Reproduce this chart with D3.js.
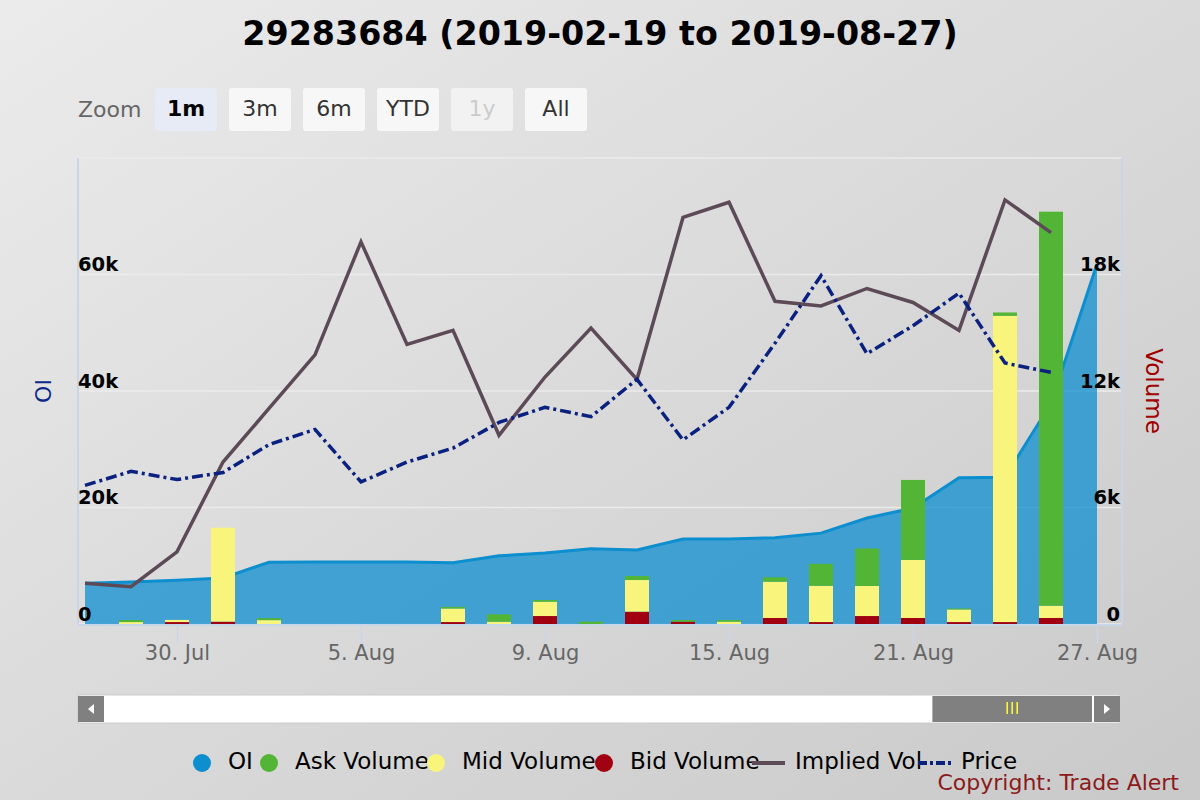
<!DOCTYPE html>
<html>
<head>
<meta charset="utf-8">
<script src="https://cdn.jsdelivr.net/npm/d3@7"></script>
<style>
  html, body { margin: 0; padding: 0; }
  body { width: 1200px; height: 800px; overflow: hidden; }
  svg { display: block; font-family: "DejaVu Sans", Verdana, sans-serif; }
</style>
</head>
<body>
<svg id="chart" width="1200" height="800"></svg>
<script>
// trading days shown in the 1m window
const dates = [
  "2019-07-26", "2019-07-29", "2019-07-30", "2019-07-31", "2019-08-01", "2019-08-02",
  "2019-08-05", "2019-08-06", "2019-08-07", "2019-08-08", "2019-08-09",
  "2019-08-12", "2019-08-13", "2019-08-14", "2019-08-15", "2019-08-16",
  "2019-08-19", "2019-08-20", "2019-08-21", "2019-08-22", "2019-08-23",
  "2019-08-26", "2019-08-27"
];

const oi = [7000, 7200, 7500, 7900, 10600, 10650, 10650, 10650, 10500, 11700, 12200,
  12900, 12700, 14600, 14600, 14800, 15600, 18200, 19900, 25100, 25200, 37900, 61800];

const askVolume = [0, 100, 0, 0, 100, 0, 0, 0, 85, 380, 85,
  120, 205, 85, 85, 225, 1130, 1930, 4120, 50, 175, 20290, 0];
const midVolume = [0, 100, 110, 4840, 200, 0, 0, 0, 700, 120, 740,
  0, 1630, 0, 120, 1870, 1870, 1550, 2990, 650, 15770, 635, 0];
const bidVolume = [0, 0, 100, 120, 0, 0, 0, 0, 100, 0, 410,
  0, 635, 120, 0, 310, 100, 410, 310, 100, 100, 310, 0];

const impliedVol = [23.5, 23.2, 26.2, 33.9, 38.5, 43.1, 52.8, 44.0, 45.2, 36.2, 41.2,
  45.4, 41.0, 54.9, 56.2, 47.7, 47.3, 48.8, 47.6, 45.2, 56.4, 53.6, null];
const price = [1.19, 1.31, 1.24, 1.30, 1.54, 1.67, 1.22, 1.39, 1.51, 1.73, 1.86,
  1.78, 2.10, 1.58, 1.86, 2.41, 2.99, 2.32, 2.56, 2.84, 2.24, 2.16, null];

const tickDates = ["2019-07-30", "2019-08-05", "2019-08-09", "2019-08-15", "2019-08-21", "2019-08-27"];
const tickLabels = ["30. Jul", "5. Aug", "9. Aug", "15. Aug", "21. Aug", "27. Aug"];
const oiTicks = [0, 20000, 40000, 60000];
const volumeTicks = [0, 6000, 12000, 18000];
const gridTicks = [0, 20000, 40000, 60000, 80000];

const zoomButtons = ["1m", "3m", "6m", "YTD", "1y", "All"];
const fullRange = ["2019-02-19", "2019-08-27"];

const colors = {
  oi: "#0d8ecf",
  ask: "#52b535",
  mid: "#f8f47c",
  bid: "#a0000f",
  iv: "#5c4b56",
  price: "#0b2180"
};

const legendItems = [
  { name: "OI", color: colors.oi, type: "dot", x: 202 },
  { name: "Ask Volume", color: colors.ask, type: "dot", x: 269 },
  { name: "Mid Volume", color: colors.mid, type: "dot", x: 436 },
  { name: "Bid Volume", color: colors.bid, type: "dot", x: 604 },
  { name: "Implied Vol", color: colors.iv, type: "line", x: 752 },
  { name: "Price", color: colors.price, type: "dash", x: 918 }
];

const W = 1200, H = 800;
const plot = { left: 78, right: 1122, top: 158, bottom: 624 };

const svg = d3.select("#chart");

// background
const defs = svg.append("defs");
const bg = defs.append("linearGradient")
    .attr("id", "bg")
    .attr("x1", 0).attr("y1", 0).attr("x2", 1).attr("y2", 1);
bg.append("stop").attr("offset", "0%").attr("stop-color", "#ebebeb");
bg.append("stop").attr("offset", "100%").attr("stop-color", "#c9c9c9");
svg.append("rect").attr("width", W).attr("height", H).attr("fill", "url(#bg)");

// title
svg.append("text")
    .attr("x", W / 2).attr("y", 45)
    .attr("text-anchor", "middle")
    .style("font-size", "33.3px").style("font-weight", "bold")
    .attr("fill", "#000")
    .text("29283684 (2019-02-19 to 2019-08-27)");

// range selector
svg.append("text")
    .attr("x", 78).attr("y", 117)
    .style("font-size", "22px").attr("fill", "#666")
    .text("Zoom");

const btn = svg.append("g").selectAll("g")
  .data(zoomButtons)
  .join("g")
    .attr("transform", (d, i) => `translate(${155 + i * 74},88)`);
btn.append("rect")
    .attr("width", 62).attr("height", 43).attr("rx", 3)
    .attr("fill", d => d === "1m" ? "#e6ebf5" : (d === "1y" ? "#f2f2f2" : "#f7f7f7"));
btn.append("text")
    .attr("x", 31).attr("y", 28)
    .attr("text-anchor", "middle")
    .style("font-size", "22px")
    .style("font-weight", d => d === "1m" ? "bold" : "normal")
    .attr("fill", d => d === "1m" ? "#000" : (d === "1y" ? "#cccccc" : "#333"))
    .text(d => d);

// scales
const x = d3.scalePoint().domain(dates).range([85, 1097]);
const yOI = d3.scaleLinear().domain([0, 80000]).range([plot.bottom, plot.top]);
const yVol = d3.scaleLinear().domain([0, 24000]).range([plot.bottom, plot.top]);
const yIV = d3.scaleLinear().domain([20, 60]).range([plot.bottom, plot.top]);
const yPrice = d3.scaleLinear().domain([0, 4]).range([plot.bottom, plot.top]);

// grid
svg.append("g")
  .selectAll("line")
  .data(gridTicks)
  .join("line")
    .attr("x1", plot.left).attr("x2", plot.right)
    .attr("y1", d => yOI(d)).attr("y2", d => yOI(d))
    .attr("stroke", "#ebebeb").attr("stroke-width", 1.5);

// axis lines
svg.append("line")
    .attr("x1", plot.left).attr("x2", plot.left)
    .attr("y1", plot.top).attr("y2", plot.bottom)
    .attr("stroke", "#c9d5e8").attr("stroke-width", 2);
svg.append("line")
    .attr("x1", plot.right).attr("x2", plot.right)
    .attr("y1", plot.top).attr("y2", plot.bottom)
    .attr("stroke", "#c9d5e8").attr("stroke-width", 2);

// OI area
const area = d3.area()
    .x((d, i) => x(dates[i]))
    .y0(yOI(0))
    .y1(d => yOI(d));
svg.append("path")
    .datum(oi)
    .attr("d", area)
    .attr("fill", colors.oi).attr("fill-opacity", 0.75);
svg.append("path")
    .datum(oi)
    .attr("d", d3.line().x((d, i) => x(dates[i])).y(d => yOI(d)))
    .attr("fill", "none").attr("stroke", colors.oi).attr("stroke-width", 3);

// stacked volume
const volRows = dates.map((d, i) => ({ date: d, bid: bidVolume[i], mid: midVolume[i], ask: askVolume[i] }));
const stacked = d3.stack().keys(["bid", "mid", "ask"])(volRows);
const barW = 24;
svg.append("g")
  .selectAll("g")
  .data(stacked)
  .join("g")
    .attr("fill", s => colors[s.key])
  .selectAll("rect")
  .data(s => s.filter(d => d[1] > d[0]))
  .join("rect")
    .attr("x", d => x(d.data.date) - barW / 2)
    .attr("width", barW)
    .attr("y", d => yVol(d[1]))
    .attr("height", d => yVol(d[0]) - yVol(d[1]));

// implied vol + price lines
svg.append("path")
    .datum(impliedVol)
    .attr("d", d3.line().defined(d => d != null).x((d, i) => x(dates[i])).y(d => yIV(d)))
    .attr("fill", "none").attr("stroke", colors.iv).attr("stroke-width", 3.5)
    .attr("stroke-linejoin", "miter");
svg.append("path")
    .datum(price)
    .attr("d", d3.line().defined(d => d != null).x((d, i) => x(dates[i])).y(d => yPrice(d)))
    .attr("fill", "none").attr("stroke", colors.price).attr("stroke-width", 3.5)
    .attr("stroke-dasharray", "11,4,3,4");

// y axes labels (inside plot, above grid lines)
const fmt = d => d === 0 ? "0" : d3.format("~s")(d);
const leftAxis = svg.append("g")
    .attr("transform", `translate(${plot.left},0)`)
    .call(d3.axisRight(yOI).tickValues(oiTicks).tickFormat(fmt).tickSize(0).tickPadding(0))
    .attr("font-family", null);
leftAxis.select(".domain").remove();
leftAxis.selectAll("text")
    .attr("x", 0).attr("dy", "-0.2em")
    .style("font-size", "19.5px").style("font-weight", "bold")
    .attr("fill", "#000");

const rightAxis = svg.append("g")
    .attr("transform", `translate(${plot.right - 2},0)`)
    .call(d3.axisLeft(yVol).tickValues(volumeTicks).tickFormat(fmt).tickSize(0).tickPadding(0))
    .attr("font-family", null);
rightAxis.select(".domain").remove();
rightAxis.selectAll("text")
    .attr("x", 0).attr("dy", "-0.2em")
    .style("font-size", "19.5px").style("font-weight", "bold")
    .attr("fill", "#000");

// x axis
svg.append("line")
    .attr("x1", plot.left).attr("x2", plot.right)
    .attr("y1", plot.bottom + 1).attr("y2", plot.bottom + 1)
    .attr("stroke", "#c9d5e8").attr("stroke-width", 2);
const xAxis = svg.append("g")
    .attr("transform", `translate(0,${plot.bottom + 1})`)
    .call(d3.axisBottom(x).tickValues(tickDates)
      .tickFormat((d, i) => tickLabels[i]).tickSize(18).tickPadding(2))
    .attr("font-family", null);
xAxis.select(".domain").remove();
xAxis.selectAll("line").attr("stroke", "#c9d5e8").attr("stroke-width", 1.5);
xAxis.selectAll("text")
    .style("font-size", "21px").attr("fill", "#666");

// axis titles
svg.append("text")
    .attr("transform", "translate(51,391) rotate(-90)")
    .attr("text-anchor", "middle")
    .style("font-size", "22px").attr("fill", "#0b2a8a")
    .text("OI");
svg.append("text")
    .attr("transform", "translate(1146,391) rotate(90)")
    .attr("text-anchor", "middle")
    .style("font-size", "23px").attr("fill", "#a00000")
    .text("Volume");

// scrollbar
const track = d3.scaleTime()
    .domain(fullRange.map(d => new Date(d)))
    .range([104, 1094]);
const sb = svg.append("g").attr("transform", "translate(0,696)");
sb.append("rect").attr("x", 78).attr("y", -1).attr("width", 1042).attr("height", 28)
    .attr("fill", "#fff").attr("stroke", "#cccccc").attr("stroke-width", 1);
const thumbX0 = track(new Date(dates[0])) + 6;
sb.append("rect").attr("x", thumbX0).attr("y", 0)
    .attr("width", track(new Date(dates[dates.length - 1])) - 2 - thumbX0).attr("height", 26)
    .attr("fill", "#808080");
const gripX = (thumbX0 + 1092) / 2;
sb.selectAll(".grip")
  .data([-5, 0, 5])
  .join("line")
    .attr("x1", d => gripX + d).attr("x2", d => gripX + d)
    .attr("y1", 6).attr("y2", 18)
    .attr("stroke", "#ffff33").attr("stroke-width", 1.5);
sb.append("rect").attr("x", 78).attr("y", 0).attr("width", 26).attr("height", 26).attr("fill", "#808080");
sb.append("rect").attr("x", 1094).attr("y", 0).attr("width", 26).attr("height", 26).attr("fill", "#808080");
sb.append("path").attr("d", "M94,8 L88,13 L94,18 Z").attr("fill", "#fff");
sb.append("path").attr("d", "M1104,8 L1110,13 L1104,18 Z").attr("fill", "#fff");

// legend
const lg = svg.append("g")
  .selectAll("g")
  .data(legendItems)
  .join("g")
    .attr("transform", d => `translate(${d.x},763)`);
lg.filter(d => d.type === "dot").append("circle")
    .attr("r", 9).attr("fill", d => d.color);
lg.filter(d => d.type !== "dot").append("line")
    .attr("x1", 0).attr("x2", 33)
    .attr("stroke", d => d.color).attr("stroke-width", 4)
    .attr("stroke-dasharray", d => d.type === "dash" ? "9,3,3,3" : null);
lg.append("text")
    .attr("x", d => d.type === "dot" ? 26 : 43)
    .attr("y", 6)
    .style("font-size", "23px").attr("fill", "#000")
    .text(d => d.name);

// credits
svg.append("text")
    .attr("x", 1179).attr("y", 790)
    .attr("text-anchor", "end")
    .style("font-size", "22px").attr("fill", "#8b1a1a")
    .text("Copyright: Trade Alert");
</script>
</body>
</html>
